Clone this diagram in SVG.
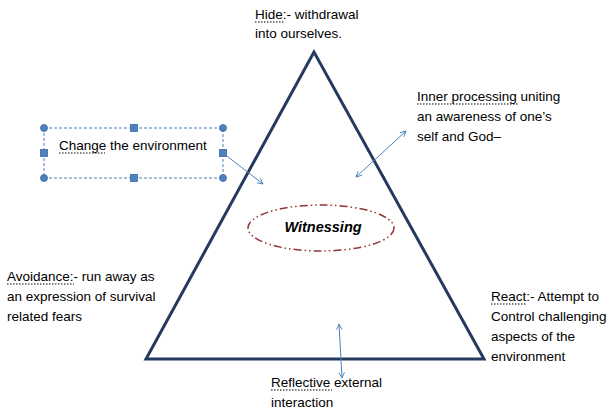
<svg xmlns="http://www.w3.org/2000/svg" width="612" height="416" viewBox="0 0 612 416">
<style>
text{font-family:"Liberation Sans",Arial,sans-serif;font-size:13.5px;fill:#000}
.tri{fill:none;stroke:#243a5e;stroke-width:3;stroke-linejoin:miter}
.arr{stroke:#4f81bd;stroke-width:1;fill:none}
.ul{stroke:#000;stroke-width:1;stroke-dasharray:1.5 1.5}
.h{fill:#4f81bd;stroke:#3a6aa8;stroke-width:0.8}
</style>
<defs>
<marker id="ah" viewBox="0 0 10 10" refX="9" refY="5" markerWidth="7" markerHeight="7" orient="auto-start-reverse" markerUnits="userSpaceOnUse">
<path d="M1,1 L9,5 L1,9" fill="none" stroke="#4f81bd" stroke-width="1.3"/>
</marker>
</defs>
<rect width="612" height="416" fill="#fff"/>
<g id="triangle">
<polygon class="tri" points="314,52 146,359 484,359"/>
</g>
<g id="witnessing">
<ellipse cx="321" cy="228" rx="73" ry="23" fill="none" stroke="#943634" stroke-width="1.5" stroke-dasharray="8 3 1.5 3 1.5 3"/>
<text x="323" y="232" text-anchor="middle" style="font-weight:bold;font-style:italic;font-size:14.5px">Witnessing</text>
</g>
<g id="hide">
<text x="255" y="19">Hide:- withdrawal</text>
<text x="255" y="38">into ourselves.</text>
<line class="ul" x1="255" y1="22" x2="284" y2="22"/>
</g>
<g id="change">
<rect x="44" y="128" width="179" height="50" fill="none" stroke="#4f81bd" stroke-width="1" stroke-dasharray="3 2"/>
<circle class="h" cx="44" cy="128" r="3.5"/>
<circle class="h" cx="223" cy="128" r="3.5"/>
<circle class="h" cx="44" cy="178" r="3.5"/>
<circle class="h" cx="223" cy="178" r="3.5"/>
<rect class="h" x="130.5" y="124.5" width="7" height="7"/>
<rect class="h" x="130.5" y="174.5" width="7" height="7"/>
<rect class="h" x="40.5" y="149.5" width="7" height="7"/>
<rect class="h" x="219.5" y="149.5" width="7" height="7"/>
<text x="59" y="150">Change the environment</text>
<line class="ul" x1="59" y1="153" x2="105" y2="153"/>
</g>
<g id="inner">
<text x="417" y="101">Inner processing uniting</text>
<text x="417" y="121">an awareness of one’s</text>
<text x="417" y="141">self and God–</text>
<line class="ul" x1="417" y1="104" x2="518" y2="104"/>
</g>
<g id="avoidance">
<text x="7" y="281">Avoidance:- run away as</text>
<text x="7" y="301">an expression of survival</text>
<text x="7" y="321">related fears</text>
<line class="ul" x1="7" y1="284" x2="74" y2="284"/>
</g>
<g id="react">
<text x="491" y="301">React:- Attempt to</text>
<text x="491" y="321">Control challenging</text>
<text x="491" y="341">aspects of the</text>
<text x="491" y="361">environment</text>
<line class="ul" x1="491" y1="304" x2="526" y2="304"/>
</g>
<g id="reflective">
<text x="271" y="387">Reflective external</text>
<text x="271" y="407">interaction</text>
<line class="ul" x1="271" y1="390" x2="332" y2="390"/>
</g>
<g id="connectors">
<line class="arr" x1="223" y1="153" x2="263" y2="184" marker-end="url(#ah)"/>
<line class="arr" x1="406" y1="131" x2="356" y2="177" marker-start="url(#ah)" marker-end="url(#ah)"/>
<line class="arr" x1="339" y1="324" x2="342" y2="378" marker-start="url(#ah)" marker-end="url(#ah)"/>
</g>
</svg>
